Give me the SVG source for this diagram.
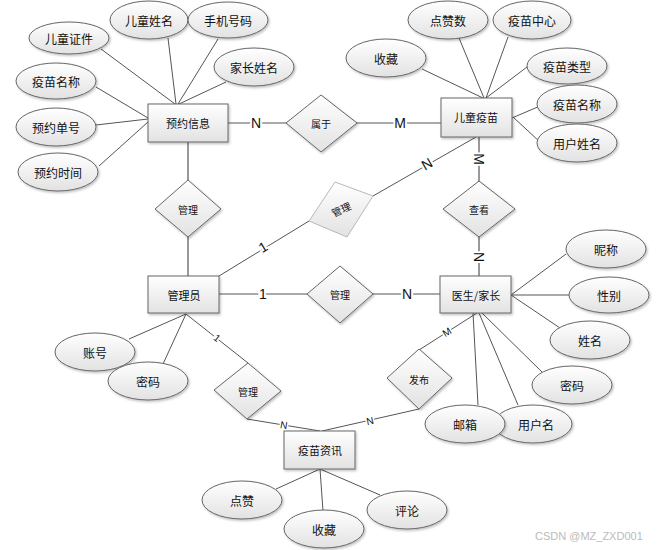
<svg xmlns="http://www.w3.org/2000/svg" width="659" height="550" viewBox="0 0 659 550">
<defs>
<linearGradient id="g" x1="0" y1="0" x2="0" y2="1">
<stop offset="0" stop-color="#ffffff"/>
<stop offset="1" stop-color="#e2e2e2"/>
</linearGradient>
<filter id="sh" x="-20%" y="-20%" width="140%" height="150%">
<feDropShadow dx="1.2" dy="1.5" stdDeviation="0.8" flood-color="#000" flood-opacity="0.25"/>
</filter>
<style>
.e,.r,.d{fill:url(#g);stroke:#666;stroke-width:1;filter:url(#sh)}
.dl{fill:url(#g);stroke:#b8b8b8;stroke-width:1}
.t{font-family:"Noto Sans CJK SC","Liberation Sans",sans-serif;font-size:12px;fill:#111;text-anchor:middle;dominant-baseline:central}
.tr{font-size:11px}
.td{font-size:10px}
.ln{stroke:#555;stroke-width:1;fill:none}
.lt{stroke:#999;stroke-width:2;fill:none}
.lb{font-family:"Liberation Sans",Arial,sans-serif;font-size:14px;fill:#111;text-anchor:middle;dominant-baseline:central;stroke:#fff;stroke-width:4;paint-order:stroke}
.ls{font-size:10px;stroke-width:3}
.wm{font-family:"Liberation Sans",Arial,sans-serif;font-size:11px;fill:#bbb}
</style>
</defs>
<rect width="659" height="550" fill="#fff"/>
<g id="connectors">
<line class="ln" x1="101" y1="49" x2="175" y2="104"/>
<line class="ln" x1="168" y1="38" x2="176" y2="104"/>
<line class="ln" x1="218" y1="39" x2="178" y2="104"/>
<line class="ln" x1="226" y1="82" x2="179" y2="104"/>
<line class="ln" x1="96" y1="87" x2="148" y2="118"/>
<line class="ln" x1="96" y1="125" x2="148" y2="119"/>
<line class="ln" x1="99" y1="166" x2="148" y2="122"/>
<line class="ln" x1="228" y1="123" x2="441" y2="123"/>
<line class="ln" x1="422" y1="69" x2="483" y2="98"/>
<line class="ln" x1="459" y1="38" x2="484" y2="98"/>
<line class="ln" x1="508" y1="37" x2="486" y2="98"/>
<line class="ln" x1="527" y1="67" x2="486" y2="98"/>
<line class="ln" x1="540" y1="106" x2="512" y2="118"/>
<line class="ln" x1="540" y1="142" x2="513" y2="117"/>
<line class="lt" x1="188" y1="142" x2="188" y2="276"/>
<line class="lt" x1="479" y1="137" x2="479" y2="276"/>
<line class="ln" x1="219" y1="276" x2="309" y2="221"/>
<line class="ln" x1="373" y1="196" x2="476" y2="137"/>
<line class="ln" x1="219" y1="294" x2="440" y2="294"/>
<line class="ln" x1="511" y1="295" x2="566" y2="254"/>
<line class="ln" x1="511" y1="295" x2="569" y2="295"/>
<line class="ln" x1="511" y1="295" x2="560" y2="328"/>
<line class="ln" x1="473" y1="313" x2="478" y2="405"/>
<line class="ln" x1="479" y1="313" x2="518" y2="405"/>
<line class="ln" x1="482" y1="313" x2="542" y2="372"/>
<line class="ln" x1="477" y1="313" x2="419" y2="350"/>
<line class="ln" x1="186" y1="314" x2="129" y2="339"/>
<line class="ln" x1="186" y1="314" x2="163" y2="364"/>
<line class="ln" x1="186" y1="314" x2="248" y2="363"/>
<line class="ln" x1="247" y1="419" x2="320" y2="431"/>
<line class="ln" x1="419" y1="409" x2="322" y2="431"/>
<line class="ln" x1="320" y1="469" x2="276" y2="489"/>
<line class="ln" x1="320" y1="469" x2="323" y2="511"/>
<line class="ln" x1="320" y1="469" x2="380" y2="495"/>
<text class="lb" x="256" y="123">N</text>
<text class="lb" x="400" y="123">M</text>
<text class="lb" x="263" y="294">1</text>
<text class="lb" x="407" y="294">N</text>
<text class="lb" x="479" y="159" transform="rotate(90 479 159)">M</text>
<text class="lb" x="479" y="257" transform="rotate(90 479 257)">N</text>
<text class="lb" x="263" y="247" font-size="12" transform="rotate(-31 263 247)">1</text>
<text class="lb" x="427" y="164" font-size="12" transform="rotate(-30 427 164)">N</text>
<text class="lb ls" x="217" y="338" transform="rotate(38 217 338)">1</text>
<text class="lb ls" x="447" y="332" transform="rotate(-32 447 332)">M</text>
<text class="lb ls" x="284" y="425" transform="rotate(9 284 425)">N</text>
<text class="lb ls" x="370" y="421" transform="rotate(-13 370 421)">N</text>
</g>
<g id="n-yuyue"><rect class="r" x="148" y="104" width="80" height="38"/><text class="t tr" x="188" y="123">预约信息</text></g>
<g id="n-etzj"><ellipse class="e" cx="69" cy="38" rx="40" ry="16"/><text class="t" x="69" y="38">儿童证件</text></g>
<g id="n-etxm"><ellipse class="e" cx="149" cy="20" rx="39" ry="19"/><text class="t" x="149" y="20">儿童姓名</text></g>
<g id="n-sjhm"><ellipse class="e" cx="228" cy="20" rx="40" ry="18"/><text class="t" x="228" y="20">手机号码</text></g>
<g id="n-jzxm"><ellipse class="e" cx="254" cy="67" rx="40" ry="19"/><text class="t" x="254" y="67">家长姓名</text></g>
<g id="n-ymmc1"><ellipse class="e" cx="56" cy="81" rx="40" ry="18"/><text class="t" x="56" y="81">疫苗名称</text></g>
<g id="n-yydh"><ellipse class="e" cx="56" cy="127" rx="40" ry="19"/><text class="t" x="56" y="127">预约单号</text></g>
<g id="n-yysj"><ellipse class="e" cx="58" cy="172" rx="40" ry="19"/><text class="t" x="58" y="172">预约时间</text></g>
<g id="n-shuyu"><polygon class="d" points="321,95 357,123 321,152 286,123"/><text class="t td" x="321" y="123">属于</text></g>
<g id="n-etym"><rect class="r" x="441" y="98" width="71" height="39"/><text class="t tr" x="476" y="117">儿童疫苗</text></g>
<g id="n-dzs"><ellipse class="e" cx="448" cy="20" rx="40" ry="19"/><text class="t" x="448" y="20">点赞数</text></g>
<g id="n-ymzx"><ellipse class="e" cx="532" cy="20" rx="39" ry="19"/><text class="t" x="532" y="20">疫苗中心</text></g>
<g id="n-sc1"><ellipse class="e" cx="386" cy="58" rx="40" ry="19"/><text class="t" x="386" y="58">收藏</text></g>
<g id="n-ymlx"><ellipse class="e" cx="567" cy="66" rx="40" ry="18"/><text class="t" x="567" y="66">疫苗类型</text></g>
<g id="n-ymmc2"><ellipse class="e" cx="577" cy="104" rx="40" ry="19"/><text class="t" x="577" y="104">疫苗名称</text></g>
<g id="n-yhxm"><ellipse class="e" cx="577" cy="143" rx="40" ry="19"/><text class="t" x="577" y="143">用户姓名</text></g>
<g id="n-gl1"><polygon class="d" points="188,180 221,209 188,237 155,209"/><text class="t td" x="188" y="209">管理</text></g>
<g id="n-gl2"><polygon class="dl" points="335,182 373,196 347,237 309,221"/><text class="t td" x="341" y="209" transform="rotate(-25 341 209)">管理</text></g>
<g id="n-chakan"><polygon class="d" points="479,181 515,209 479,237 443,209"/><text class="t td" x="479" y="209">查看</text></g>
<g id="n-gly"><rect class="r" x="148" y="276" width="71" height="37"/><text class="t tr" x="184" y="295">管理员</text></g>
<g id="n-gl3"><polygon class="d" points="340,266 373,294 340,323 307,294"/><text class="t td" x="340" y="294">管理</text></g>
<g id="n-ys"><rect class="r" x="440" y="276" width="71" height="37"/><text class="t tr" x="476" y="295">医生/家长</text></g>
<g id="n-nc"><ellipse class="e" cx="606" cy="249" rx="40" ry="19"/><text class="t" x="606" y="249">昵称</text></g>
<g id="n-xb"><ellipse class="e" cx="609" cy="295" rx="40" ry="18"/><text class="t" x="609" y="295">性别</text></g>
<g id="n-xm"><ellipse class="e" cx="590" cy="340" rx="40" ry="19"/><text class="t" x="590" y="340">姓名</text></g>
<g id="n-mm2"><ellipse class="e" cx="572" cy="385" rx="40" ry="19"/><text class="t" x="572" y="385">密码</text></g>
<g id="n-yhm"><ellipse class="e" cx="533" cy="424" rx="39" ry="19"/><text class="t" x="536" y="424">用户名</text></g>
<g id="n-yx"><ellipse class="e" cx="465" cy="424" rx="40" ry="19"/><text class="t" x="465" y="424">邮箱</text></g>
<g id="n-zh"><ellipse class="e" cx="95" cy="352" rx="40" ry="19"/><text class="t" x="95" y="352">账号</text></g>
<g id="n-mm1"><ellipse class="e" cx="148" cy="381" rx="40" ry="19"/><text class="t" x="148" y="381">密码</text></g>
<g id="n-gl4"><polygon class="d" points="248,363 281,391 247,419 214,390"/><text class="t td" x="248" y="391">管理</text></g>
<g id="n-fb"><polygon class="d" points="419,349 452,378 419,409 387,378"/><text class="t td" x="419" y="379">发布</text></g>
<g id="n-ymzx2"><rect class="r" x="284" y="431" width="71" height="38"/><text class="t tr" x="320" y="450">疫苗资讯</text></g>
<g id="n-dz"><ellipse class="e" cx="242" cy="500" rx="40" ry="19"/><text class="t" x="242" y="500">点赞</text></g>
<g id="n-sc2"><ellipse class="e" cx="324" cy="529" rx="40" ry="19"/><text class="t" x="324" y="529">收藏</text></g>
<g id="n-pl"><ellipse class="e" cx="407" cy="510" rx="40" ry="19"/><text class="t" x="407" y="510">评论</text></g>
<text class="wm" x="535" y="540">CSDN @MZ_ZXD001</text>
</svg>
